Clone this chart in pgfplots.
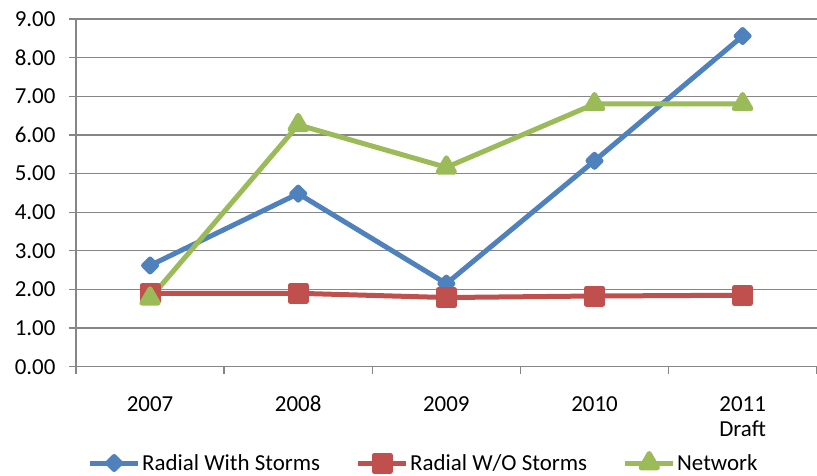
\documentclass[border=0pt]{standalone}
\usepackage{fontspec}
\setmainfont{Carlito}
\usepackage{pgfplots}
\pgfplotsset{compat=1.18}
\definecolor{cblue}{RGB}{79,129,189}
\definecolor{cred}{RGB}{192,80,77}
\definecolor{cgreen}{RGB}{155,187,89}
\definecolor{cgrid}{RGB}{134,134,134}
\pgfplotsset{mylegimg/.style={legend image code/.code={\draw[mark repeat=2,mark phase=2,#1] plot coordinates {(0bp,0bp)(24bp,0bp)(48bp,0bp)};}}}
\begin{document}
\begin{tikzpicture}
\path[use as bounding box] (0bp,0bp) rectangle (817bp,476bp);
\begin{axis}[
  at={(76bp,109.3bp)}, anchor=south west,
  scale only axis, width=740.7bp, height=347.7bp,
  xmin=-0.5, xmax=4.5, ymin=0, ymax=9,
  axis x line*=bottom, axis y line*=left,
  axis line style={cgrid, line width=1.3bp},
  tick align=outside,
  major tick length=7bp,
  tick style={cgrid, line width=1.3bp},
  xtick={-0.5,0.5,1.5,2.5,3.5,4.5},
  xticklabels={,,,,,},
  extra x ticks={0,1,2,3,4},
  extra x tick labels={2007,2008,2009,2010,{2011\\Draft}},
  extra x tick style={major tick length=0pt, tick label style={align=center, anchor=north, yshift=-26bp}},
  ytick={0,1,...,9},
  ymajorgrids, grid style={cgrid, line width=1.3bp},
  y tick label style={/pgf/number format/fixed, /pgf/number format/fixed zerofill, /pgf/number format/precision=2, xshift=-10bp},
  /pgf/number format/assume math mode=true,
  tick label style={font=\fontsize{23}{26}\selectfont, black},
  legend columns=3,
  legend style={at={(0.469,-0.277)}, anchor=center, draw=none, fill=none,
    font=\fontsize{23}{26}\selectfont, inner sep=0pt,
    nodes={inner sep=1.5bp},
    /tikz/every even column/.append style={column sep=34bp}},
  mylegimg,
  clip=false,
]
\addplot[cblue, line width=5bp, line join=round, mark=square*, mark size=4.6bp,
  mark options={rotate=45, draw=none, fill=cblue}]
  coordinates {(0,2.62)(1,4.48)(2,2.15)(3,5.33)(4,8.56)};
\addlegendentry{Radial With Storms}
\addplot[cred, line width=5bp, line join=round, mark=square*, mark size=8bp,
  mark options={draw=none, fill=cred}]
  coordinates {(0,1.90)(1,1.90)(2,1.79)(3,1.83)(4,1.85)};
\addlegendentry{Radial W/O Storms}
\addplot[cgreen, line width=5bp, line join=round, mark=triangle*, mark size=9.5bp,
  mark options={draw=none, fill=cgreen}]
  coordinates {(0,1.77)(1,6.26)(2,5.16)(3,6.80)(4,6.80)};
\addlegendentry{Network}
\end{axis}
\end{tikzpicture}
\end{document}
